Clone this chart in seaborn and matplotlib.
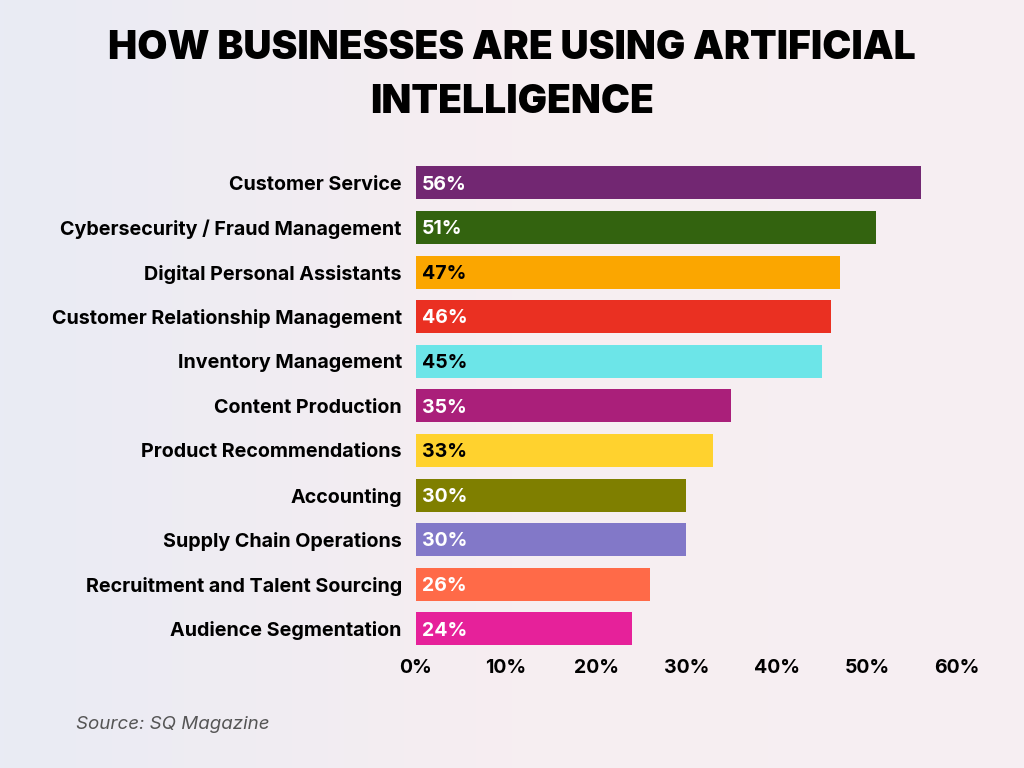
import matplotlib
matplotlib.use('Agg')
import matplotlib.pyplot as plt
from matplotlib.colors import LinearSegmentedColormap
import numpy as np
import pandas as pd
import seaborn as sns

categories = [
    'Customer Service', 'Cybersecurity / Fraud Management', 'Digital Personal Assistants',
    'Customer Relationship Management', 'Inventory Management', 'Content Production',
    'Product Recommendations', 'Accounting', 'Supply Chain Operations',
    'Recruitment and Talent Sourcing', 'Audience Segmentation'
]
values = [56, 51, 47, 46, 45, 35, 33, 30, 30, 26, 24]
bar_colors = ['#722772', '#33630f', '#fba600', '#ea3022', '#6ce5e8', '#aa1f7a',
              '#ffd22e', '#7f7f00', '#8278c8', '#ff6a48', '#e6219a']
label_colors = ['white', 'white', 'black', 'white', 'black', 'white',
                'black', 'white', 'white', 'white', 'white']
xticks = [0, 10, 20, 30, 40, 50, 60]

df = pd.DataFrame({'category': categories, 'value': values})

sns.set_style('white')
plt.rcParams['font.family'] = ['Inter', 'DejaVu Sans']
plt.rcParams['text.color'] = 'black'
plt.rcParams['xtick.color'] = 'black'
plt.rcParams['ytick.color'] = 'black'

fig = plt.figure(figsize=(10.24, 7.68), dpi=100)

# background gradient
bg = fig.add_axes([0, 0, 1, 1], zorder=-10)
grad = np.linspace(0, 1, 256).reshape(1, -1)
cmap_bg = LinearSegmentedColormap.from_list('bg', ['#e9ebf4', '#f7eef1', '#f6eff3'])
bg.imshow(grad, aspect='auto', cmap=cmap_bg, extent=[0, 1, 0, 1])
bg.axis('off')

ax = fig.add_axes([0.406, 0.1523, 0.5286, 0.6385])
ax.patch.set_alpha(0)
sns.barplot(data=df, x='value', y='category', hue='category', palette=bar_colors,
            legend=False, width=0.74, ax=ax, saturation=1, edgecolor='none', linewidth=0)

for i, (v, c) in enumerate(zip(values, label_colors)):
    ax.text(0.65, i + 0.04, f'{v}%', color=c, fontsize=14, fontweight='bold',
            va='center', ha='left')

ax.set_xlim(0, 60)
ax.set_xticks(xticks)
ax.set_xticklabels([f'{t}%' for t in xticks], fontsize=14, fontweight='bold')
ax.tick_params(axis='y', labelsize=14.2, length=0, pad=10)
ax.tick_params(axis='x', length=0, pad=6)
for lbl in ax.get_yticklabels():
    lbl.set_fontweight('bold')
ax.set_xlabel('')
ax.set_ylabel('')
sns.despine(ax=ax, left=True, bottom=True)

fig.text(0.5, 0.937, 'HOW BUSINESSES ARE USING ARTIFICIAL', ha='center', va='center',
         fontsize=28, fontweight='black')
fig.text(0.5, 0.866, 'INTELLIGENCE', ha='center', va='center',
         fontsize=28, fontweight='black')
fig.text(0.074, 0.057, 'Source: SQ Magazine', ha='left', va='center',
         fontsize=13.5, style='italic', color='#555555')

fig.savefig('out.png', dpi=100)
